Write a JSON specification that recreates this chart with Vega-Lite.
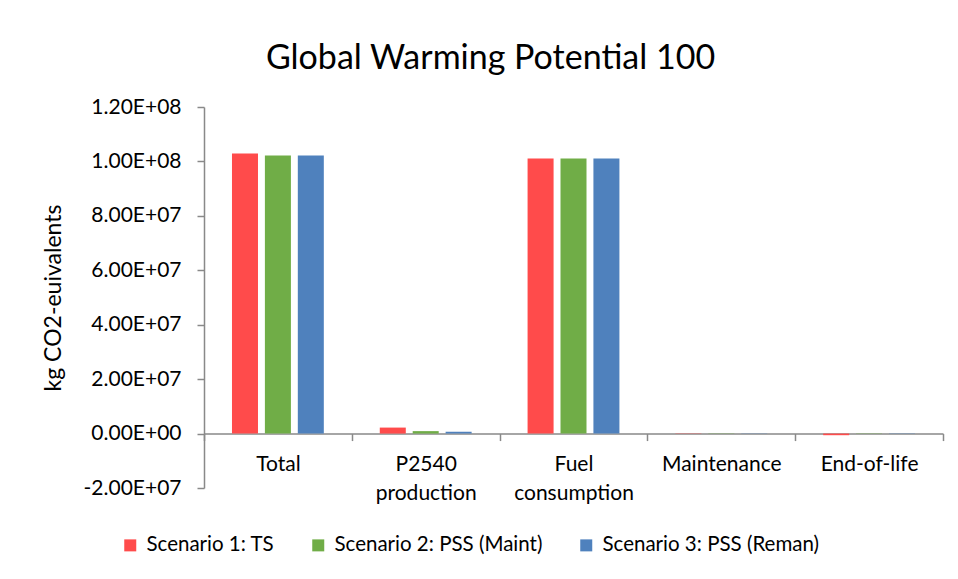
{
  "$schema": "https://vega.github.io/schema/vega-lite/v6.json",
  "width": 739,
  "height": 381,
  "autosize": {"type": "none"},
  "padding": {"left": 204, "top": 107, "right": 15, "bottom": 91},
  "background": "white",
  "title": {
    "text": "Global Warming Potential 100",
    "fontSize": 34,
    "fontWeight": "normal",
    "color": "#000000",
    "anchor": "middle",
    "dx": -83,
    "offset": 20
  },
  "data": {
    "values": [
      {"category": "Total", "scenario": "Scenario 1: TS", "value": 102900000},
      {"category": "Total", "scenario": "Scenario 2: PSS (Maint)", "value": 102150000},
      {"category": "Total", "scenario": "Scenario 3: PSS (Reman)", "value": 102150000},
      {"category": "P2540 production", "scenario": "Scenario 1: TS", "value": 2200000},
      {"category": "P2540 production", "scenario": "Scenario 2: PSS (Maint)", "value": 900000},
      {"category": "P2540 production", "scenario": "Scenario 3: PSS (Reman)", "value": 700000},
      {"category": "Fuel consumption", "scenario": "Scenario 1: TS", "value": 101050000},
      {"category": "Fuel consumption", "scenario": "Scenario 2: PSS (Maint)", "value": 101050000},
      {"category": "Fuel consumption", "scenario": "Scenario 3: PSS (Reman)", "value": 101050000},
      {"category": "Maintenance", "scenario": "Scenario 1: TS", "value": 100000},
      {"category": "Maintenance", "scenario": "Scenario 2: PSS (Maint)", "value": 80000},
      {"category": "Maintenance", "scenario": "Scenario 3: PSS (Reman)", "value": 80000},
      {"category": "End-of-life", "scenario": "Scenario 1: TS", "value": -600000},
      {"category": "End-of-life", "scenario": "Scenario 2: PSS (Maint)", "value": -100000},
      {"category": "End-of-life", "scenario": "Scenario 3: PSS (Reman)", "value": -100000}
    ]
  },
  "mark": {"type": "bar"},
  "encoding": {
    "x": {
      "field": "category",
      "type": "nominal",
      "sort": null,
      "scale": {"paddingInner": 0, "paddingOuter": 0},
      "axis": {
        "title": null,
        "labelAngle": 0,
        "tickBand": "extent",
        "offset": -54.43,
        "labelExpr": "split(datum.label, ' ')",
        "labelLineHeight": 29,
        "labelFontSize": 21,
        "labelColor": "#000000",
        "labelPadding": 13,
        "tickSize": 7,
        "domainColor": "#898989",
        "tickColor": "#898989",
        "domainWidth": 1.5,
        "tickWidth": 1.5
      }
    },
    "xOffset": {
      "field": "scenario",
      "type": "nominal",
      "sort": null,
      "scale": {"paddingInner": 0.21, "paddingOuter": 0.85}
    },
    "y": {
      "field": "value",
      "type": "quantitative",
      "scale": {"domain": [-20000000, 120000000], "nice": false, "zero": false},
      "axis": {
        "title": "kg CO2-euivalents",
        "titleFontSize": 23,
        "titleFontWeight": "normal",
        "titleColor": "#000000",
        "titlePadding": 18,
        "values": [-20000000, 0, 20000000, 40000000, 60000000, 80000000, 100000000, 120000000],
        "labelExpr": "replace(upper(replace(format(datum.value, '.2e'), 'e+', 'e+0')), '\u2212', '-')",
        "labelFontSize": 21,
        "labelColor": "#000000",
        "labelPadding": 16,
        "tickSize": 7,
        "grid": false,
        "domainColor": "#898989",
        "tickColor": "#898989",
        "domainWidth": 1.5,
        "tickWidth": 1.5
      }
    },
    "color": {
      "field": "scenario",
      "type": "nominal",
      "sort": null,
      "scale": {"range": ["#FF4B4B", "#70AD47", "#4F81BD"]},
      "legend": {
        "title": null,
        "orient": "none",
        "direction": "horizontal",
        "legendX": -84,
        "legendY": 428,
        "symbolType": "square",
        "symbolSize": 144,
        "symbolStrokeWidth": 0,
        "labelFontSize": 20.5,
        "labelColor": "#000000",
        "labelOffset": 6,
        "columnPadding": 33,
        "labelLimit": 400
      }
    }
  },
  "config": {
    "font": "Lato",
    "view": {"stroke": null}
  }
}
